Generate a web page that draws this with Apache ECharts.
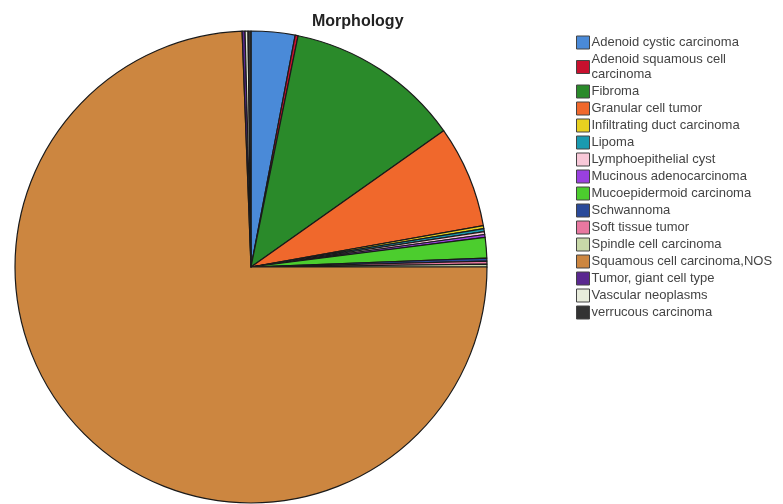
<!DOCTYPE html>
<html>
<head>
<meta charset="utf-8">
<script src="https://cdn.jsdelivr.net/npm/echarts@6/dist/echarts.min.js"></script>
<style>
    html, body { margin: 0; padding: 0; background: #fff; }
    #main { width: 783px; height: 504px; }
</style>
</head>
<body>
<div id="main"></div>
<script>
// categories, in legend order (slices run clockwise from 12 o'clock)
var categories = [
    'Adenoid cystic carcinoma', 'Adenoid squamous cell carcinoma', 'Fibroma',
    'Granular cell tumor', 'Infiltrating duct carcinoma', 'Lipoma',
    'Lymphoepithelial cyst', 'Mucinous adenocarcinoma', 'Mucoepidermoid carcinoma',
    'Schwannoma', 'Soft tissue tumor', 'Spindle cell carcinoma',
    'Squamous cell carcinoma,NOS', 'Tumor, giant cell type', 'Vascular neoplasms',
    'verrucous carcinoma'
];
// case counts
var counts = [15, 1, 60, 35, 1, 1, 1, 1, 7, 1, 1, 1, 372, 1, 1, 1];
var colors = [
    '#4a8ad8', '#c8102e', '#2a8a2a', '#f0682c', '#e8d020', '#1a9ab0',
    '#f8c8d8', '#9a40e0', '#4ccd2e', '#2a4a9a', '#e878a0', '#c8d8a8',
    '#cc8640', '#5a2890', '#e8ecdc', '#333333'
];

var chart = echarts.init(document.getElementById('main'));

var pieData = categories.map(function (name, i) {
    return {value: counts[i], name: name, itemStyle: {color: colors[i]}};
});

var option = {
    animation: false,
    backgroundColor: '#fff',
    title: {
        text: 'Morphology',
        left: 307,
        top: 9,
        textStyle: {
            fontFamily: 'Liberation Sans',
            fontSize: 16,
            fontWeight: 'bold',
            color: '#222'
        }
    },
    legend: {
        orient: 'vertical',
        left: 571,
        top: 30,
        itemWidth: 13,
        itemHeight: 13,
        itemGap: 2,
        icon: 'rect',
        data: categories,
        formatter: function (name) {
            if (name === 'Adenoid squamous cell carcinoma') return 'Adenoid squamous cell\ncarcinoma';
            return name;
        },
        itemStyle: {borderColor: '#444', borderWidth: 1},
        textStyle: {
            fontFamily: 'Liberation Sans',
            fontSize: 13,
            lineHeight: 15,
            color: '#444',
            padding: [0, 0, 0, -3]
        }
    },
    series: [
        {
            name: 'Morphology',
            type: 'pie',
            center: [251, 267],
            radius: 236,
            startAngle: 90,
            clockwise: true,
            label: {show: false},
            labelLine: {show: false},
            emphasis: {disabled: true},
            itemStyle: {
                borderColor: '#1a1a1a',
                borderWidth: 1.2
            },
            data: pieData
        }
    ]
};

chart.setOption(option);
</script>
</body>
</html>
